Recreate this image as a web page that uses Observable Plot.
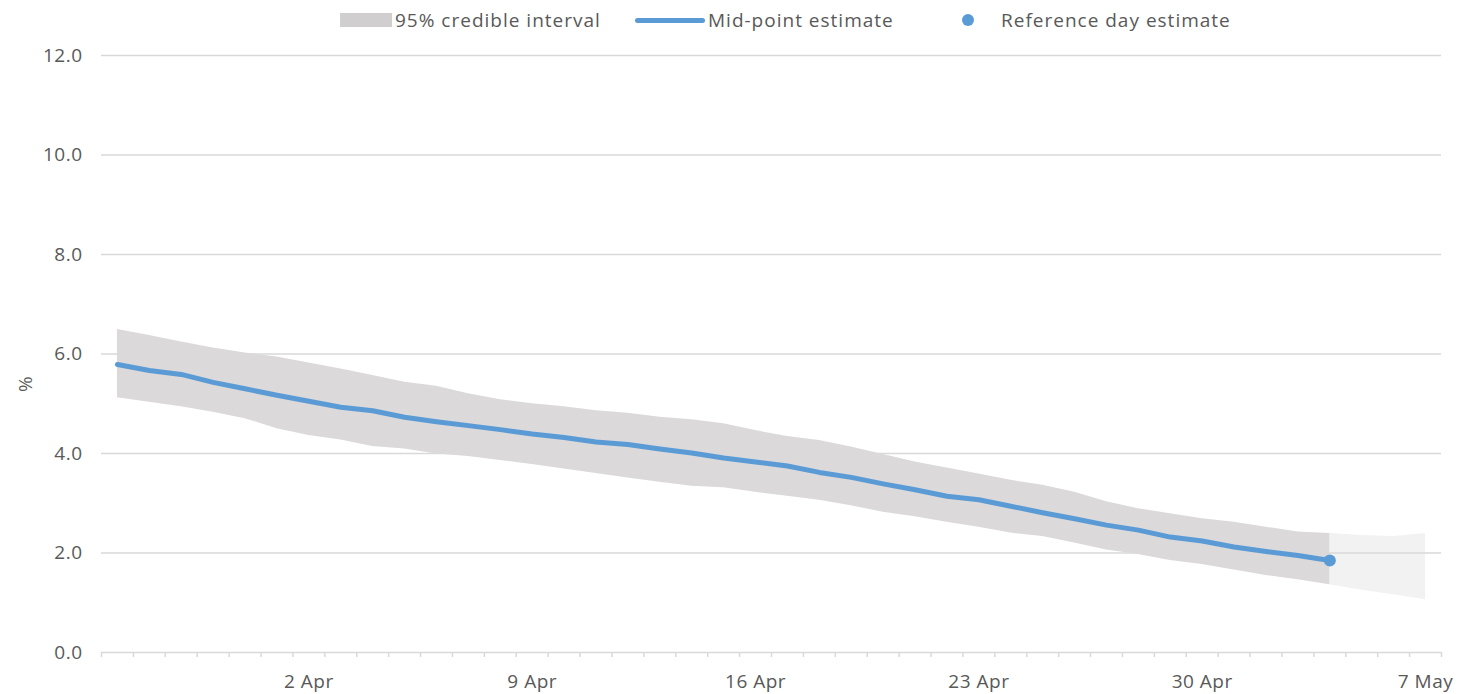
<!DOCTYPE html>
<html><head><meta charset="utf-8">
<script src="https://cdn.jsdelivr.net/npm/d3@7"></script>
<script src="https://cdn.jsdelivr.net/npm/@observablehq/plot@0.6"></script>
<style>
body{margin:0;background:#fff;font-family:"Open Sans",sans-serif;color:#595959}
#legend{position:relative;height:40px;width:1458px;font-size:19px;letter-spacing:1px}
.lt{position:absolute;top:0;line-height:40px;white-space:nowrap}
.sw{position:absolute}
</style></head><body>
<div id="legend">
 <div class="sw" style="left:340px;top:13px;width:52px;height:14px;background:#d0cece"></div>
 <div class="lt" style="left:395px">95% credible interval</div>
 <div class="sw" style="left:635px;top:17.5px;width:70px;height:5px;border-radius:3px;background:#5b9bd5"></div>
 <div class="lt" style="left:708px">Mid-point estimate</div>
 <div class="sw" style="left:962px;top:14px;width:12px;height:12px;border-radius:50%;background:#5b9bd5"></div>
 <div class="lt" style="left:1001px">Reference day estimate</div>
</div>
<div id="chart"></div>
<script>
const dates = ["2021-03-27","2021-03-28","2021-03-29","2021-03-30","2021-03-31","2021-04-01","2021-04-02","2021-04-03","2021-04-04","2021-04-05",
 "2021-04-06","2021-04-07","2021-04-08","2021-04-09","2021-04-10","2021-04-11","2021-04-12","2021-04-13","2021-04-14","2021-04-15",
 "2021-04-16","2021-04-17","2021-04-18","2021-04-19","2021-04-20","2021-04-21","2021-04-22","2021-04-23","2021-04-24","2021-04-25",
 "2021-04-26","2021-04-27","2021-04-28","2021-04-29","2021-04-30","2021-05-01","2021-05-02","2021-05-03","2021-05-04"];
const mid = [5.79,5.67,5.59,5.43,5.30,5.17,5.05,4.93,4.86,4.73,
 4.64,4.56,4.48,4.39,4.32,4.23,4.18,4.09,4.01,3.91,
 3.83,3.75,3.62,3.52,3.39,3.27,3.14,3.07,2.94,2.81,
 2.69,2.56,2.46,2.32,2.24,2.12,2.03,1.95,1.85];
const lower = [5.12,5.03,4.94,4.83,4.70,4.50,4.36,4.27,4.14,4.09,
 3.99,3.94,3.86,3.78,3.69,3.60,3.51,3.42,3.34,3.31,
 3.22,3.14,3.06,2.95,2.82,2.73,2.62,2.52,2.40,2.33,
 2.20,2.06,1.97,1.85,1.77,1.66,1.55,1.46,1.36];
const upper = [6.49,6.37,6.24,6.12,6.02,5.94,5.82,5.70,5.57,5.43,
 5.35,5.20,5.08,5.00,4.94,4.86,4.81,4.73,4.68,4.60,
 4.46,4.34,4.26,4.13,3.98,3.83,3.71,3.59,3.46,3.36,
 3.22,3.03,2.89,2.79,2.69,2.62,2.52,2.42,2.39];
const extDates = ["2021-05-04","2021-05-05","2021-05-06","2021-05-07"];
const extLower = [1.36,1.25,1.16,1.06];
const extUpper = [2.39,2.35,2.33,2.39];
const yTicks = [0,2,4,6,8,10,12];
const xTickLabels = ["2021-04-02","2021-04-09","2021-04-16","2021-04-23","2021-04-30","2021-05-07"];
const axisStart = "2021-03-27", axisEnd = "2021-05-07";

const parse = d3.utcParse("%Y-%m-%d");
const main = dates.map((d,i)=>({date:parse(d), mid:mid[i], lo:lower[i], hi:upper[i]}));
const ext = extDates.map((d,i)=>({date:parse(d), lo:extLower[i], hi:extUpper[i]}));
const half = 12*3600*1000;
const x0 = new Date(+parse(axisStart)-half), x1 = new Date(+parse(axisEnd)+half);
const boundaries = d3.utcDay.range(parse(axisStart), d3.utcDay.offset(parse(axisEnd),2)).map(d=>new Date(+d-half));

const chart = Plot.plot({
  width:1458, height:654, marginLeft:101, marginRight:17, marginTop:15, marginBottom:42,
  style:{fontFamily:'"Open Sans", sans-serif', fontSize:"19px", color:"#595959", background:"#fff", letterSpacing:"0.5px"},
  x:{type:"utc", domain:[x0,x1]},
  y:{domain:[0,12]},
  marks:[
    Plot.areaY(ext,{x:"date", y1:"lo", y2:"hi", fill:"#f2f2f2"}),
    Plot.ruleY(yTicks,{stroke:"#d9d9d9", strokeWidth:1.5}),
    Plot.areaY(main,{x:"date", y1:"lo", y2:"hi", fill:"#dbd9da"}),
    Plot.lineY(main,{x:"date", y:"mid", stroke:"#5b9bd5", strokeWidth:5, strokeLinecap:"round", strokeLinejoin:"round"}),
    Plot.dot(main.slice(-1),{x:"date", y:"mid", r:6, fill:"#5b9bd5"}),
    Plot.axisY({ticks:yTicks, tickFormat:d3.format(".1f"), tickSize:0, tickPadding:19, label:null}),
    Plot.axisX({ticks:boundaries, tickSize:5, tickFormat:()=>"", stroke:"#d9d9d9", strokeWidth:1.5, label:null}),
    Plot.axisX({ticks:xTickLabels.map(parse), tickSize:0, tickPadding:22, tickFormat:d3.utcFormat("%-d %b"), label:null}),
    Plot.text(["%"],{text:d=>d, frameAnchor:"left", dx:-76, dy:38, rotate:-90})
  ]
});
document.getElementById("chart").appendChild(chart);
</script>
</body></html>
